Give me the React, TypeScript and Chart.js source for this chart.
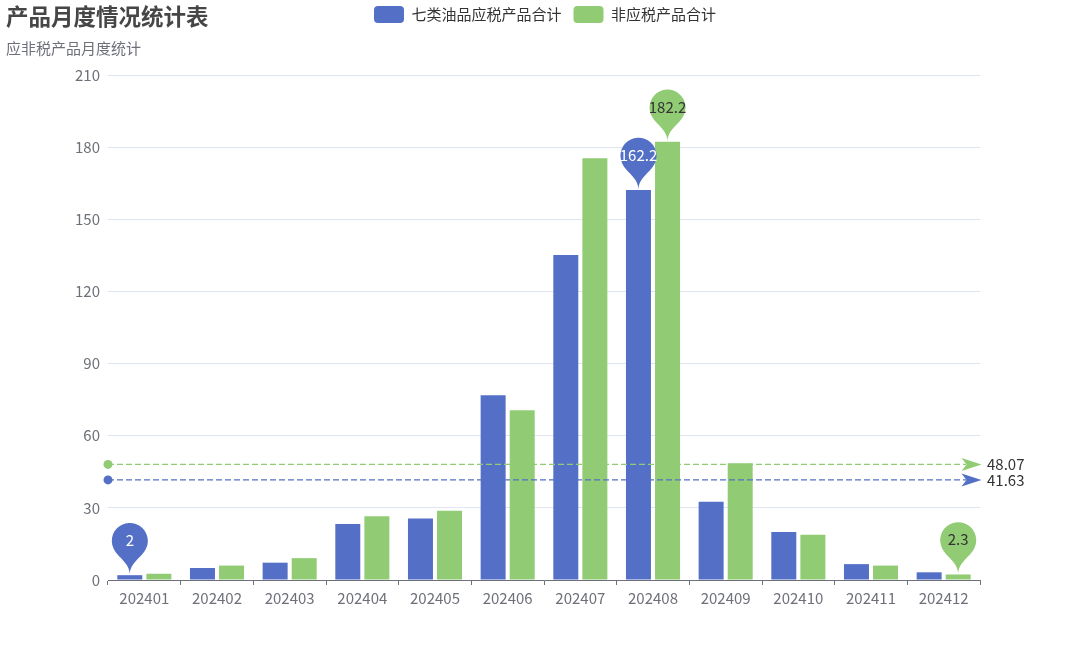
import React, { useEffect, useRef } from "react";
import { Chart, registerables } from "chart.js";

Chart.register(...registerables);

const titleText = "产品月度情况统计表";
const subtitleText = "应非税产品月度统计";
const seriesNames = ["七类油品应税产品合计", "非应税产品合计"];
const categories = [
  "202401", "202402", "202403", "202404", "202405", "202406",
  "202407", "202408", "202409", "202410", "202411", "202412",
];
const taxedValues = [2, 5.0, 7.2, 23.3, 25.6, 76.8, 135.2, 162.2, 32.5, 20.0, 6.6, 3.2];
const nonTaxedValues = [2.6, 6.0, 9.1, 26.5, 28.8, 70.6, 175.4, 182.2, 48.5, 18.8, 6.0, 2.3];
const yMin = 0;
const yMax = 210;
const yStep = 30;

const seriesColors = ["#5470c6", "#91cc75"];
const pinTextColors = ["#ffffff", "#333333"];
const FONT = '"Noto Sans CJK SC", "Noto Sans", sans-serif';
const FS = 15;

function drawPin(ctx: CanvasRenderingContext2D, x: number, tipY: number, color: string, text: string, textColor: string) {
  const width = 60;
  const height = 60;
  const w = (width / 5) * 3;
  const h = Math.max(w, height);
  const r = w / 2;
  const dy = (r * r) / (h - r);
  const cy = tipY - h + r + dy;
  const angle = Math.asin(dy / r);
  const dx = Math.cos(angle) * r;
  const tanX = Math.sin(angle);
  const tanY = Math.cos(angle);
  const cpLen = r * 0.6;
  const cpLen2 = r * 0.7;
  ctx.save();
  ctx.fillStyle = color;
  ctx.beginPath();
  ctx.moveTo(x - dx, cy + dy);
  ctx.arc(x, cy, r, Math.PI - angle, Math.PI * 2 + angle);
  ctx.bezierCurveTo(x + dx - tanX * cpLen, cy + dy + tanY * cpLen, x, tipY - cpLen2, x, tipY);
  ctx.bezierCurveTo(x, tipY - cpLen2, x - dx + tanX * cpLen, cy + dy + tanY * cpLen, x - dx, cy + dy);
  ctx.closePath();
  ctx.fill();
  ctx.fillStyle = textColor;
  ctx.font = `${FS}px ${FONT}`;
  ctx.textAlign = "center";
  ctx.textBaseline = "middle";
  ctx.fillText(text, x, tipY - 35);
  ctx.restore();
}

const marksPlugin = {
  id: "marks",
  beforeInit(chart: any) {
    const legend = chart.legend;
    if (legend) {
      const origFit = legend.fit;
      legend.fit = function () {
        origFit.call(this);
        this.height += 42;
      };
    }
  },
  afterDatasetsDraw(chart: any) {
    const ctx: CanvasRenderingContext2D = chart.ctx;
    const yScale = chart.scales.y;
    const area = chart.chartArea;
    chart.data.datasets.forEach((ds: any, i: number) => {
      const vals = ds.data as number[];
      const avg = vals.reduce((a, b) => a + b, 0) / vals.length;
      const yy = yScale.getPixelForValue(avg);
      const color = seriesColors[i];
      ctx.save();
      ctx.strokeStyle = color;
      ctx.lineWidth = 1.4;
      ctx.setLineDash([6, 3]);
      ctx.beginPath();
      ctx.moveTo(area.left, yy);
      ctx.lineTo(area.right - 14, yy);
      ctx.stroke();
      ctx.setLineDash([]);
      ctx.fillStyle = color;
      ctx.beginPath();
      ctx.arc(area.left, yy, 4.5, 0, Math.PI * 2);
      ctx.fill();
      const tip = area.right + 1.5;
      ctx.beginPath();
      ctx.moveTo(tip, yy);
      ctx.lineTo(tip - 20, yy - 6.5);
      ctx.lineTo(tip - 15, yy);
      ctx.lineTo(tip - 20, yy + 6.5);
      ctx.closePath();
      ctx.fill();
      ctx.fillStyle = "#333333";
      ctx.font = `${FS}px ${FONT}`;
      ctx.textAlign = "left";
      ctx.textBaseline = "middle";
      ctx.fillText(avg.toFixed(2), area.right + 7, yy);
      ctx.restore();
    });
    chart.data.datasets.forEach((ds: any, i: number) => {
      const vals = ds.data as number[];
      const meta = chart.getDatasetMeta(i);
      const maxI = vals.indexOf(Math.max(...vals));
      const minI = vals.indexOf(Math.min(...vals));
      [maxI, minI].forEach((idx) => {
        const el = meta.data[idx];
        drawPin(ctx, el.x, el.y, seriesColors[i], String(vals[idx]), pinTextColors[i]);
      });
    });
  },
  afterDraw(chart: any) {
    const ctx: CanvasRenderingContext2D = chart.ctx;
    ctx.save();
    ctx.textAlign = "left";
    ctx.textBaseline = "middle";
    ctx.fillStyle = "#464646";
    ctx.font = `bold 22.5px ${FONT}`;
    ctx.fillText(titleText, 6, 16);
    ctx.fillStyle = "#6e7079";
    ctx.font = `${FS}px ${FONT}`;
    ctx.fillText(subtitleText, 6, 48);
    ctx.restore();
  },
};

export default function App() {
  const canvasRef = useRef<HTMLCanvasElement | null>(null);

  useEffect(() => {
    if (!canvasRef.current) return;
    const chart = new Chart(canvasRef.current, {
      type: "bar",
      data: {
        labels: categories,
        datasets: [
          {
            label: seriesNames[0],
            data: taxedValues,
            backgroundColor: seriesColors[0],
            borderColor: seriesColors[0],
            borderWidth: 0,
            categoryPercentage: 0.8,
            barPercentage: 0.86,
          },
          {
            label: seriesNames[1],
            data: nonTaxedValues,
            backgroundColor: seriesColors[1],
            borderColor: seriesColors[1],
            borderWidth: 0,
            categoryPercentage: 0.8,
            barPercentage: 0.86,
          },
        ],
      },
      options: {
        animation: false,
        responsive: false,
        devicePixelRatio: 1,
        layout: { padding: { top: -6, left: 0, right: 0, bottom: 0 } },
        plugins: {
          tooltip: { enabled: false },
          title: { display: false },
          legend: {
            display: true,
            position: "top",
            align: "center",
            labels: {
              boxWidth: 30,
              boxHeight: 17,
              padding: 12,
              useBorderRadius: true,
              borderRadius: 4,
              color: "#333333",
              font: { size: FS, family: FONT },
            },
          },
        },
        scales: {
          x: {
            type: "category",
            offset: true,
            grid: {
              display: true,
              drawOnChartArea: false,
              drawTicks: true,
              tickLength: 5,
              tickColor: "#6e7079",
              offset: true,
            },
            border: { display: true, color: "#6e7079", width: 1 },
            ticks: {
              color: "#6e7079",
              font: { size: FS, family: FONT },
              padding: 4,
              maxRotation: 0,
              autoSkip: false,
            },
            afterFit: (s: any) => {
              s.height = 87;
            },
          },
          y: {
            min: yMin,
            max: yMax,
            grid: { color: "#e0e6f1", drawTicks: false },
            border: { display: false },
            ticks: {
              stepSize: yStep,
              color: "#6e7079",
              font: { size: FS, family: FONT },
              padding: 8,
            },
            afterFit: (s: any) => {
              s.width = 108;
            },
          },
          yRight: {
            position: "right",
            display: true,
            min: yMin,
            max: yMax,
            grid: { display: false, drawTicks: false },
            border: { display: false },
            ticks: { display: false },
            afterFit: (s: any) => {
              s.width = 110;
            },
          },
        },
      },
      plugins: [marksPlugin as any],
    });
    return () => chart.destroy();
  }, []);

  return (
    <div style={{ position: "absolute", left: 0, top: 0, width: 1090, height: 667, background: "#fff" }}>
      <canvas ref={canvasRef} width={1090} height={667} />
    </div>
  );
}
